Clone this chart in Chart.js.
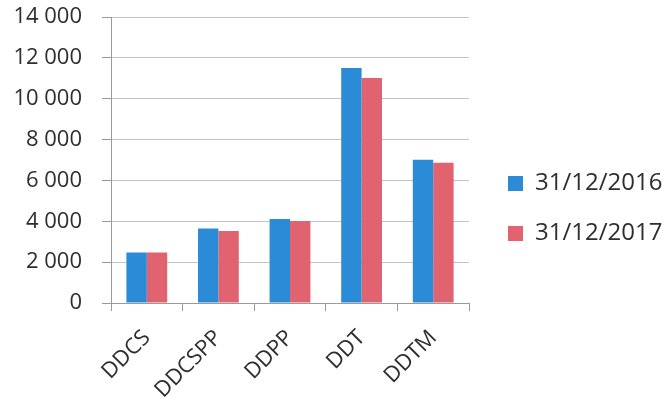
<!DOCTYPE html>
<html>
<head>
<meta charset="utf-8">
<script src="https://cdn.jsdelivr.net/npm/chart.js@4/dist/chart.umd.min.js"></script>
<style>
  html, body { margin: 0; padding: 0; background: #ffffff; }
  #wrap { width: 671px; height: 400px; }
</style>
</head>
<body>
<div id="wrap"><canvas id="c" width="671" height="400"></canvas></div>
<script>
const categories = ['DDCS', 'DDCSPP', 'DDPP', 'DDT', 'DDTM'];
const seriesNames = ['31/12/2016', '31/12/2017'];
const values2016 = [2470, 3650, 4110, 11500, 7010];
const values2017 = [2470, 3520, 4010, 11010, 6860];
const yMin = 0;
const yMax = 14000;
const yStep = 2000;

const textColor = '#2e2e2e';
const fontFamily = '"Open Sans", "Liberation Sans", sans-serif';

// Fixed box sizes so the plot sits at the same place regardless of text metrics
const yAxisWidth = 111;
const xAxisHeight = 97;
const legendWidth = 202;
const legendShift = 13;

function formatThousands(v) {
  return String(v).replace(/\B(?=(\d{3})+(?!\d))/g, ' ');
}

const legendPlacement = {
  id: 'legendPlacement',
  beforeLayout(chart) {
    const lg = chart.legend;
    if (lg && !lg.__fixedWidth) {
      const fit = lg.fit.bind(lg);
      lg.fit = function () { fit(); this.width = legendWidth; };
      lg.__fixedWidth = true;
    }
  },
  afterLayout(chart) {
    const lg = chart.legend;
    if (lg) { lg.left += legendShift; lg.right += legendShift; }
  }
};

new Chart(document.getElementById('c'), {
  type: 'bar',
  data: {
    labels: categories,
    datasets: [
      { label: seriesNames[0], data: values2016, backgroundColor: '#2b8bd6', borderWidth: 0 },
      { label: seriesNames[1], data: values2017, backgroundColor: '#e0636f', borderWidth: 0 }
    ]
  },
  plugins: [legendPlacement],
  options: {
    responsive: false,
    animation: false,
    devicePixelRatio: 1,
    layout: { padding: { left: 0, right: 0, top: 17, bottom: 0 } },
    datasets: {
      bar: { categoryPercentage: 0.57, barPercentage: 1.0 }
    },
    plugins: {
      tooltip: { enabled: false },
      legend: {
        position: 'right',
        labels: {
          color: textColor,
          font: { family: fontFamily, size: 24 },
          boxWidth: 15,
          boxHeight: 15,
          padding: 26
        }
      }
    },
    scales: {
      x: {
        grid: {
          display: true,
          drawOnChartArea: false,
          drawTicks: true,
          tickLength: 8,
          color: '#9a9a9a'
        },
        border: { display: true, color: '#9a9a9a', width: 1 },
        ticks: {
          color: textColor,
          font: { family: fontFamily, size: 22 },
          minRotation: 45,
          maxRotation: 45,
          padding: 14
        },
        afterFit(scale) {
          scale.height = xAxisHeight;
          scale.paddingLeft = 0;
          scale.paddingRight = 0;
        }
      },
      y: {
        min: yMin,
        max: yMax,
        grid: {
          color: '#c4c4c4',
          drawTicks: true,
          tickLength: 9,
          tickColor: '#9a9a9a'
        },
        border: { display: true, color: '#9a9a9a', width: 1 },
        ticks: {
          stepSize: yStep,
          color: textColor,
          font: { family: fontFamily, size: 22 },
          padding: 20,
          callback: (v) => formatThousands(v)
        },
        afterFit(scale) {
          scale.width = yAxisWidth;
          scale.paddingTop = 0;
          scale.paddingBottom = 0;
        }
      }
    }
  }
});
</script>
</body>
</html>
